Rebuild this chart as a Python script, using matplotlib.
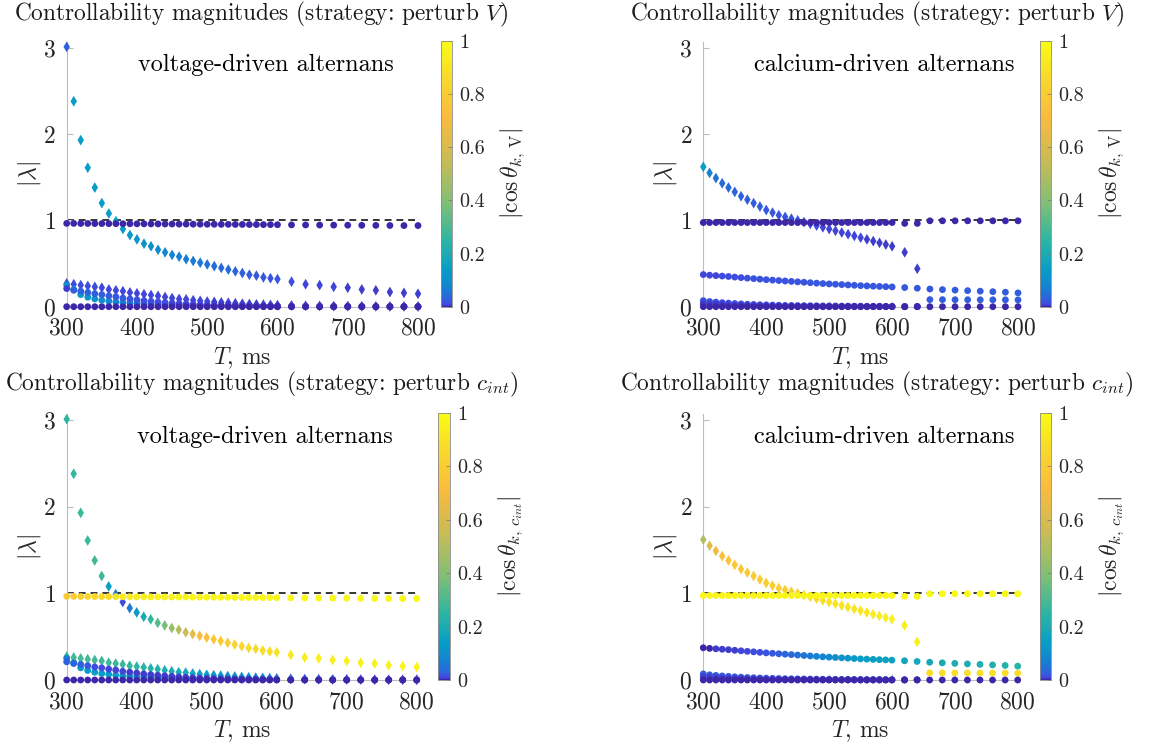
import numpy as np
import matplotlib
matplotlib.use("Agg")
import matplotlib.pyplot as plt
from matplotlib.colors import LinearSegmentedColormap, ListedColormap

plt.rcParams["font.family"] = "cmr10"
plt.rcParams["mathtext.fontset"] = "cm"
plt.rcParams["axes.formatter.use_mathtext"] = True

nan = np.nan

# pacing period T, ms
T = [300, 310, 320, 330, 340, 350, 360, 370, 380, 390,
     400, 410, 420, 430, 440, 450, 460, 470, 480, 490,
     500, 510, 520, 530, 540, 550, 560, 570, 580, 590,
     600, 620, 640, 660, 680, 700, 720, 740, 760, 780, 800]

# ---- voltage-driven alternans, |lambda| ----
volt_big = [3.01, 2.38, 1.93, 1.61, 1.38, 1.20, 1.08, 0.99, 0.90, 0.83,
            0.78, 0.73, 0.70, 0.66, 0.63, 0.60, 0.58, 0.55, 0.53, 0.51,
            0.49, 0.47, 0.45, 0.43, 0.41, 0.39, 0.37, 0.36, 0.34, 0.33,
            0.32, 0.29, 0.26, 0.25, 0.23, 0.22, 0.20, 0.19, 0.17, 0.16, 0.15]
volt_one = [0.965, 0.965, 0.964, 0.964, 0.963, 0.963, 0.962, 0.962, 0.961, 0.961,
            0.960, 0.960, 0.959, 0.959, 0.958, 0.958, 0.957, 0.957, 0.956, 0.956,
            0.955, 0.955, 0.954, 0.954, 0.953, 0.953, 0.952, 0.952, 0.951, 0.951,
            0.950, 0.948, 0.947, 0.946, 0.945, 0.944, 0.943, 0.942, 0.941, 0.940, 0.940]
volt_mid = [0.27, 0.26, 0.25, 0.24, 0.23, 0.22, 0.20, 0.19, 0.18, 0.165,
            0.155, 0.145, 0.135, 0.125, 0.112, 0.10, 0.09, 0.085, 0.075, 0.068,
            0.06, 0.055, 0.05, 0.045, 0.04, 0.035, 0.031, 0.027, 0.024, 0.021,
            0.018, 0.014, 0.011, 0.009, 0.007, 0.006, 0.005, 0.004, 0.003, 0.003, 0.002]
volt_slow = [0.21, 0.19, 0.18, 0.165, 0.15, 0.14, 0.125, 0.115, 0.10, 0.09,
             0.08, 0.07, 0.062, 0.055, 0.048, 0.042, 0.036, 0.031, 0.027, 0.023,
             0.02, 0.017, 0.015, 0.013, 0.011, 0.01, 0.009, 0.008, 0.007, 0.006,
             0.005, 0.004, 0.003, 0.003, 0.002, 0.002, 0.002, 0.001, 0.001, 0.001, 0.001]
volt_fast = [0.25, 0.20, 0.14, 0.11, 0.09, 0.075, 0.065, 0.056, 0.049, 0.043,
             0.038, 0.034, 0.03, 0.027, 0.024, 0.021, 0.019, 0.017, 0.015, 0.013,
             0.012, 0.011, 0.01, 0.009, 0.008, 0.007, 0.006, 0.006, 0.005, 0.005,
             0.004, 0.003, 0.003, 0.002, 0.002, 0.002, 0.001, 0.001, 0.001, 0.001, 0.001]
volt_zero = [0, 0, 0, 0, 0, 0, 0, 0, 0, 0,
             0, 0, 0, 0, 0, 0, 0, 0, 0, 0,
             0, 0, 0, 0, 0, 0, 0, 0, 0, 0,
             0, 0, 0, 0, 0, 0, 0, 0, 0, 0, 0]

# ---- calcium-driven alternans, |lambda| ----
calc_big = [1.62, 1.55, 1.49, 1.43, 1.38, 1.33, 1.28, 1.24, 1.20, 1.16,
            1.12, 1.09, 1.06, 1.04, 1.02, 1.00, 0.98, 0.96, 0.94, 0.92,
            0.90, 0.88, 0.86, 0.84, 0.82, 0.80, 0.78, 0.76, 0.74, 0.72,
            0.70, 0.63, 0.44, nan, nan, nan, nan, nan, nan, nan, nan]
calc_one = [0.975, 0.975, 0.975, 0.975, 0.975, 0.975, 0.975, 0.975, 0.975, 0.975,
            0.975, 0.975, 0.975, 0.975, 0.975, 0.975, 0.975, 0.975, 0.975, 0.975,
            0.975, 0.975, 0.975, 0.975, 0.975, 0.975, 0.975, 0.975, 0.975, 0.975,
            0.975, 0.965, 0.965, 0.995, 0.995, 0.995, 0.995, 0.995, 0.995, 0.995, 0.995]
calc_mid = [0.372, 0.365, 0.36, 0.355, 0.35, 0.343, 0.337, 0.331, 0.325, 0.319,
            0.313, 0.308, 0.303, 0.298, 0.293, 0.288, 0.283, 0.278, 0.273, 0.268,
            0.264, 0.26, 0.256, 0.252, 0.248, 0.244, 0.241, 0.238, 0.235, 0.232,
            0.229, 0.222, 0.214, 0.205, 0.198, 0.192, 0.186, 0.18, 0.174, 0.168, 0.16]
calc_low1 = [0.07, 0.06, 0.053, 0.047, 0.042, 0.037, 0.033, 0.029, 0.026, 0.023,
             0.021, 0.019, 0.017, 0.015, 0.014, 0.013, 0.012, 0.011, 0.01, 0.009,
             0.008, 0.008, 0.007, 0.007, 0.006, 0.006, 0.005, 0.005, 0.005, 0.004,
             0.004, 0.003, 0.003, nan, nan, nan, nan, nan, nan, nan, nan]
calc_low2 = [0.035, 0.03, 0.026, 0.022, 0.019, 0.016, 0.014, 0.012, 0.01, 0.009,
             0.008, 0.007, 0.006, 0.005, 0.005, 0.004, 0.004, 0.003, 0.003, 0.003,
             0.002, 0.002, 0.002, 0.002, 0.002, 0.001, 0.001, 0.001, 0.001, 0.001,
             0.001, 0.001, 0.001, nan, nan, nan, nan, nan, nan, nan, nan]
calc_late = [nan, nan, nan, nan, nan, nan, nan, nan, nan, nan,
             nan, nan, nan, nan, nan, nan, nan, nan, nan, nan,
             nan, nan, nan, nan, nan, nan, nan, nan, nan, nan,
             nan, nan, nan, 0.082, 0.082, 0.081, 0.081, 0.08, 0.08, 0.08, 0.079]
calc_zero = volt_zero

# ---- |cos theta_{k,V}|  (perturb V) ----
tl_big = [0.03, 0.14, 0.14, 0.14, 0.14, 0.14, 0.14, 0.14, 0.13, 0.13,
          0.12, 0.11, 0.10, 0.09, 0.085, 0.08, 0.07, 0.065, 0.06, 0.055,
          0.05, 0.045, 0.04, 0.036, 0.032, 0.028, 0.025, 0.022, 0.02, 0.018,
          0.016, 0.012, 0.01, 0.009, 0.008, 0.007, 0.006, 0.006, 0.005, 0.005, 0.005]
tl_one = [0.003, 0.003, 0.003, 0.003, 0.003, 0.003, 0.003, 0.003, 0.003, 0.003,
          0.003, 0.003, 0.003, 0.003, 0.003, 0.003, 0.003, 0.003, 0.003, 0.003,
          0.003, 0.003, 0.003, 0.003, 0.003, 0.003, 0.003, 0.003, 0.003, 0.003,
          0.003, 0.003, 0.003, 0.003, 0.003, 0.003, 0.003, 0.003, 0.003, 0.003, 0.003]
tl_mid = [0.015, 0.014, 0.013, 0.012, 0.012, 0.011, 0.011, 0.01, 0.01, 0.01,
          0.01, 0.01, 0.009, 0.009, 0.009, 0.009, 0.008, 0.008, 0.008, 0.008,
          0.008, 0.007, 0.007, 0.007, 0.007, 0.007, 0.006, 0.006, 0.006, 0.006,
          0.006, 0.005, 0.005, 0.005, 0.005, 0.005, 0.005, 0.005, 0.005, 0.005, 0.005]
tl_slow = [0.004, 0.025, 0.03, 0.03, 0.028, 0.026, 0.024, 0.022, 0.02, 0.018,
           0.016, 0.015, 0.014, 0.013, 0.012, 0.011, 0.01, 0.009, 0.009, 0.008,
           0.008, 0.007, 0.007, 0.007, 0.006, 0.006, 0.006, 0.006, 0.005, 0.005,
           0.005, 0.005, 0.005, 0.005, 0.005, 0.005, 0.005, 0.005, 0.005, 0.005, 0.005]
tl_fast = [0.11, 0.13, 0.13, 0.12, 0.11, 0.10, 0.09, 0.085, 0.08, 0.07,
           0.065, 0.06, 0.05, 0.045, 0.04, 0.035, 0.03, 0.027, 0.024, 0.021,
           0.018, 0.016, 0.014, 0.012, 0.011, 0.01, 0.009, 0.008, 0.007, 0.006,
           0.006, 0.005, 0.005, 0.004, 0.004, 0.003, 0.003, 0.003, 0.003, 0.003, 0.003]

tr_big = [0.14, 0.08, 0.05, 0.04, 0.036, 0.033, 0.03, 0.028, 0.026, 0.024,
          0.022, 0.02, 0.019, 0.018, 0.017, 0.016, 0.014, 0.013, 0.012, 0.011,
          0.01, 0.009, 0.009, 0.008, 0.008, 0.008, 0.007, 0.007, 0.007, 0.006,
          0.006, 0.006, 0.006, nan, nan, nan, nan, nan, nan, nan, nan]
tr_one = tl_one
tr_mid = [0.008, 0.01, 0.011, 0.012, 0.013, 0.014, 0.015, 0.016, 0.016, 0.017,
          0.017, 0.018, 0.018, 0.018, 0.019, 0.019, 0.019, 0.02, 0.02, 0.02,
          0.02, 0.02, 0.021, 0.021, 0.021, 0.021, 0.021, 0.022, 0.022, 0.022,
          0.022, 0.023, 0.023, 0.023, 0.024, 0.024, 0.024, 0.025, 0.025, 0.025, 0.025]
tr_low1 = [0.016, 0.016, 0.015, 0.015, 0.015, 0.014, 0.014, 0.014, 0.013, 0.013,
           0.013, 0.012, 0.012, 0.012, 0.011, 0.011, 0.011, 0.01, 0.01, 0.01,
           0.01, 0.01, 0.01, 0.01, 0.01, 0.01, 0.01, 0.01, 0.01, 0.01,
           0.01, 0.01, 0.01, nan, nan, nan, nan, nan, nan, nan, nan]
tr_low2 = [0.004, 0.004, 0.004, 0.004, 0.004, 0.004, 0.004, 0.004, 0.004, 0.004,
           0.004, 0.004, 0.004, 0.004, 0.004, 0.004, 0.004, 0.004, 0.004, 0.004,
           0.004, 0.004, 0.004, 0.004, 0.004, 0.004, 0.004, 0.004, 0.004, 0.004,
           0.004, 0.004, 0.004, nan, nan, nan, nan, nan, nan, nan, nan]
tr_late = [nan, nan, nan, nan, nan, nan, nan, nan, nan, nan,
           nan, nan, nan, nan, nan, nan, nan, nan, nan, nan,
           nan, nan, nan, nan, nan, nan, nan, nan, nan, nan,
           nan, nan, nan, 0.025, 0.025, 0.025, 0.025, 0.025, 0.025, 0.025, 0.025]

# ---- |cos theta_{k,c_int}|  (perturb c_int) ----
bl_big = [0.25, 0.26, 0.27, 0.27, 0.28, 0.28, 0.15, 0.06, 0.012, 0.06,
          0.13, 0.19, 0.26, 0.32, 0.38, 0.45, 0.50, 0.57, 0.63, 0.70,
          0.74, 0.77, 0.79, 0.81, 0.83, 0.85, 0.86, 0.87, 0.88, 0.89,
          0.90, 0.92, 0.93, 0.94, 0.95, 0.95, 0.96, 0.96, 0.96, 0.97, 0.97]
bl_one = [0.78, 0.80, 0.82, 0.84, 0.85, 0.86, 0.88, 0.90, 0.92, 0.93,
          0.94, 0.95, 0.95, 0.96, 0.96, 0.96, 0.97, 0.97, 0.97, 0.97,
          0.97, 0.97, 0.97, 0.98, 0.98, 0.98, 0.98, 0.98, 0.98, 0.98,
          0.98, 0.98, 0.98, 0.98, 0.98, 0.98, 0.98, 0.98, 0.98, 0.98, 0.98]
bl_mid = [0.27, 0.29, 0.29, 0.29, 0.29, 0.28, 0.28, 0.27, 0.27, 0.26,
          0.25, 0.24, 0.23, 0.22, 0.21, 0.2, 0.19, 0.18, 0.17, 0.16,
          0.15, 0.14, 0.13, 0.12, 0.11, 0.1, 0.09, 0.08, 0.07, 0.06,
          0.05, 0.04, 0.03, 0.02, 0.02, 0.01, 0.01, 0.01, 0.01, 0.01, 0.01]
bl_slow = [0.03, 0.035, 0.03, 0.02, 0.015, 0.012, 0.01, 0.009, 0.008, 0.007,
           0.006, 0.006, 0.005, 0.005, 0.005, 0.005, 0.005, 0.005, 0.005, 0.005,
           0.005, 0.005, 0.005, 0.005, 0.005, 0.004, 0.004, 0.004, 0.004, 0.004,
           0.004, 0.004, 0.004, 0.004, 0.004, 0.004, 0.004, 0.004, 0.004, 0.004, 0.004]
bl_fast = [0.07, 0.12, 0.14, 0.14, 0.14, 0.14, 0.14, 0.14, 0.13, 0.13,
           0.13, 0.13, 0.12, 0.12, 0.12, 0.11, 0.11, 0.11, 0.10, 0.10,
           0.10, 0.10, 0.09, 0.09, 0.09, 0.09, 0.08, 0.08, 0.08, 0.08,
           0.08, 0.07, 0.07, 0.07, 0.07, 0.07, 0.07, 0.07, 0.07, 0.07, 0.07]

br_big = [0.50, 0.62, 0.68, 0.74, 0.76, 0.77, 0.78, 0.79, 0.79, 0.80,
          0.80, 0.81, 0.81, 0.82, 0.83, 0.84, 0.85, 0.86, 0.87, 0.88,
          0.89, 0.90, 0.90, 0.91, 0.91, 0.92, 0.92, 0.93, 0.93, 0.94,
          0.94, 0.95, 0.95, nan, nan, nan, nan, nan, nan, nan, nan]
br_one = [0.97, 0.97, 0.97, 0.97, 0.97, 0.97, 0.97, 0.97, 0.97, 0.97,
          0.97, 0.97, 0.97, 0.97, 0.97, 0.97, 0.97, 0.97, 0.97, 0.97,
          0.98, 0.98, 0.98, 0.98, 0.98, 0.98, 0.98, 0.98, 0.98, 0.98,
          0.98, 0.98, 0.98, 0.99, 0.99, 0.99, 0.99, 0.99, 0.99, 0.99, 0.99]
br_mid = [0.002, 0.003, 0.004, 0.005, 0.006, 0.007, 0.008, 0.01, 0.012, 0.015,
          0.018, 0.022, 0.027, 0.032, 0.038, 0.045, 0.053, 0.062, 0.072, 0.082,
          0.093, 0.104, 0.114, 0.122, 0.13, 0.137, 0.143, 0.148, 0.152, 0.156,
          0.16, 0.168, 0.176, 0.184, 0.192, 0.20, 0.208, 0.216, 0.224, 0.232, 0.24]
br_low1 = [0.02, 0.02, 0.02, 0.02, 0.02, 0.02, 0.02, 0.02, 0.02, 0.02,
           0.02, 0.02, 0.02, 0.02, 0.02, 0.02, 0.02, 0.02, 0.02, 0.02,
           0.02, 0.02, 0.02, 0.02, 0.02, 0.02, 0.02, 0.02, 0.02, 0.02,
           0.02, 0.02, 0.02, nan, nan, nan, nan, nan, nan, nan, nan]
br_low2 = tr_low2
br_late = [nan, nan, nan, nan, nan, nan, nan, nan, nan, nan,
           nan, nan, nan, nan, nan, nan, nan, nan, nan, nan,
           nan, nan, nan, nan, nan, nan, nan, nan, nan, nan,
           nan, nan, nan, 0.88, 0.88, 0.88, 0.88, 0.88, 0.88, 0.88, 0.88]

cbar_ticks = [0, 0.2, 0.4, 0.6, 0.8, 1]
cbar_ticklabels = ["0", "0.2", "0.4", "0.6", "0.8", "1"]

# parula-like map, stretched towards low values as in the figure
parula_pts = [
    (0.000, (0.242, 0.150, 0.660)),
    (0.100, (0.255, 0.290, 0.880)),
    (0.180, (0.170, 0.400, 0.860)),
    (0.250, (0.090, 0.490, 0.830)),
    (0.375, (0.030, 0.620, 0.780)),
    (0.500, (0.170, 0.710, 0.640)),
    (0.625, (0.500, 0.750, 0.460)),
    (0.750, (0.800, 0.735, 0.330)),
    (0.850, (0.985, 0.735, 0.245)),
    (0.930, (0.975, 0.850, 0.170)),
    (1.000, (0.977, 0.984, 0.081)),
]
base = LinearSegmentedColormap.from_list("parula", parula_pts)
cmap = ListedColormap(base(np.sqrt(np.linspace(0, 1, 256))))

W, H = 1171, 744


def box(x0, x1, y0, y1):
    return [x0 / W, 1 - y1 / H, (x1 - x0) / W, (y1 - y0) / H]


def panel(fig, axbox, cbbox, series, note, note_x, cblabel, title, title_x, title_y):
    ax = fig.add_axes(axbox)
    ax.axhline(1, color="k", lw=1.1, ls=(0, (4.5, 3.2)), zorder=1)
    sc = None
    for vals, cols, mk in series:
        sz = 30 if mk == "d" else 24
        sc = ax.scatter(T, vals, c=cols, cmap=cmap, vmin=0, vmax=1, marker=mk,
                        s=sz, linewidths=0, clip_on=False, zorder=3)
    ax.set_xlim(300, 800)
    ax.set_ylim(0, 3.07)
    ax.set_xticks([300, 400, 500, 600, 700, 800])
    ax.set_yticks([0, 1, 2, 3])
    for s in ["top", "right"]:
        ax.spines[s].set_visible(False)
    for s in ["left", "bottom"]:
        ax.spines[s].set_color("#bdbdbd")
        ax.spines[s].set_linewidth(0.8)
    ax.tick_params(direction="in", length=4, width=0.8, color="#bdbdbd",
                   labelcolor="#262626", labelsize=17)
    ax.tick_params(axis="y", pad=8)
    ax.tick_params(axis="x", pad=8)
    ax.set_xlabel("$T$, ms", fontsize=17, color="#262626", labelpad=4)
    ax.set_ylabel(r"$|\lambda|$", fontsize=17, color="#262626", labelpad=0)
    ax.text(note_x, 2.8, note, ha="center", va="center", fontsize=17.5)

    cax = fig.add_axes(cbbox)
    cb = fig.colorbar(sc, cax=cax, ticks=cbar_ticks)
    cb.ax.set_yticklabels(cbar_ticklabels)
    cb.outline.set_edgecolor("#8c8c8c")
    cb.outline.set_linewidth(0.6)
    cb.ax.tick_params(direction="in", length=3, width=0.6, color="#7f7f7f",
                      labelsize=14.5, labelcolor="#262626", pad=5)
    cb.set_label(cblabel, fontsize=17, labelpad=10, color="#262626")

    fig.text(title_x / W, 1 - title_y / H, title, ha="center", va="center",
             fontsize=16.8, color="#1a1a1a")


fig = plt.figure(figsize=(11.71, 7.44), dpi=100)

title_v = "Controllability magnitudes (strategy: perturb $V$)"
title_c = "Controllability magnitudes (strategy: perturb $c_{int}$)"
lab_v = r"$|\cos\theta_{k,\,\mathrm{V}}|$"
lab_c = r"$|\cos\theta_{k,\,c_{int}}|$"

panel(fig, box(66.7, 418, 41.7, 306.7), box(441, 452, 41, 306.7),
      [(volt_big, tl_big, "d"), (volt_mid, tl_mid, "d"),
       (volt_fast, tl_fast, "o"), (volt_slow, tl_slow, "o"),
       (volt_one, tl_one, "o"), (volt_zero, volt_zero, "o")],
      "voltage-driven alternans", 583, lab_v, title_v, 261, 14)

panel(fig, box(703.3, 1018, 41.7, 306.7), box(1040, 1051, 41, 306.7),
      [(calc_big, tr_big, "d"), (calc_mid, tr_mid, "o"),
       (calc_low1, tr_low1, "o"), (calc_low2, tr_low2, "o"),
       (calc_late, tr_late, "o"), (calc_one, tr_one, "o"),
       (calc_zero, calc_zero, "o")],
      "calcium-driven alternans", 587, lab_v, title_v, 877, 14)

panel(fig, box(66.7, 416.7, 414, 680), box(438, 450, 413, 680),
      [(volt_big, bl_big, "d"), (volt_mid, bl_mid, "d"),
       (volt_fast, bl_fast, "o"), (volt_slow, bl_slow, "o"),
       (volt_one, bl_one, "o"), (volt_zero, volt_zero, "o")],
      "voltage-driven alternans", 583, lab_c, title_c, 262, 384)

panel(fig, box(703.3, 1017.7, 414, 680), box(1040, 1051, 413, 680),
      [(calc_big, br_big, "d"), (calc_mid, br_mid, "o"),
       (calc_low1, br_low1, "o"), (calc_low2, br_low2, "o"),
       (calc_late, br_late, "o"), (calc_one, br_one, "o"),
       (calc_zero, calc_zero, "o")],
      "calcium-driven alternans", 587, lab_c, title_c, 877, 384)

fig.savefig("out.png", dpi=100)
plt.close(fig)
